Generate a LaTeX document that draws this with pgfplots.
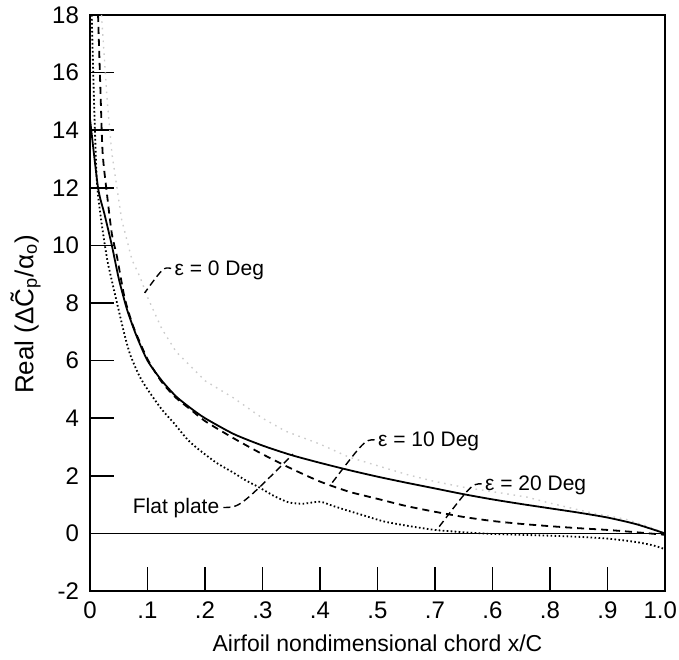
\documentclass[border=0pt]{standalone}
\usepackage{pgfplots}
\pgfplotsset{compat=1.18}
\usepackage{fontspec}
\setmainfont{Liberation Sans}

% Flat plate (solid)
\pgfplotstableread{
x y
0.000 14.4
0.014 12.0
0.025 11.1
0.038 10.0
0.050 8.85
0.064 7.8
0.080 6.9
0.100 6.0
0.125 5.3
0.150 4.75
0.175 4.35
0.200 4.0
0.250 3.45
0.300 3.05
0.350 2.72
0.400 2.45
0.450 2.2
0.500 1.97
0.550 1.76
0.600 1.56
0.650 1.36
0.700 1.18
0.750 1.02
0.800 0.87
0.850 0.72
0.900 0.55
0.950 0.32
1.000 0.0
}\flatplate

% eps = 0 deg (faint)
\pgfplotstableread{
x y
0.020 18.0
0.030 15.0
0.038 13.2
0.055 10.9
0.073 9.5
0.087 8.9
0.100 8.2
0.125 7.1
0.150 6.3
0.200 5.3
0.250 4.7
0.300 4.0
0.340 3.55
0.400 3.1
0.450 2.65
0.500 2.35
0.550 2.05
0.600 1.8
0.650 1.6
0.700 1.45
0.760 1.26
0.800 1.05
0.875 0.7
0.930 0.5
0.974 0.22
1.000 0.0
}\epszero

% eps = 10 deg (dashed)
\pgfplotstableread{
x y
0.014 18.0
0.018 15.5
0.022 13.2
0.030 11.7
0.038 10.4
0.047 9.6
0.060 8.2
0.075 7.2
0.100 6.05
0.125 5.25
0.150 4.7
0.175 4.3
0.200 3.9
0.250 3.3
0.300 2.75
0.350 2.25
0.400 1.8
0.450 1.45
0.500 1.2
0.550 0.95
0.600 0.75
0.650 0.57
0.700 0.43
0.750 0.33
0.800 0.25
0.850 0.18
0.900 0.12
0.950 0.04
1.000 -0.05
}\epsten

% eps = 20 deg (dotted)
\pgfplotstableread{
x y
0.003 18.0
0.007 15.0
0.012 12.2
0.020 10.8
0.030 9.5
0.040 8.6
0.047 8.0
0.060 6.9
0.070 6.2
0.085 5.5
0.100 5.0
0.125 4.3
0.145 3.85
0.170 3.25
0.190 2.9
0.220 2.45
0.250 2.1
0.270 1.85
0.294 1.6
0.320 1.3
0.345 1.08
0.370 1.03
0.400 1.1
0.420 0.97
0.450 0.78
0.480 0.6
0.510 0.42
0.550 0.27
0.600 0.12
0.650 0.04
0.700 -0.02
0.750 -0.05
0.800 -0.08
0.850 -0.12
0.900 -0.18
0.950 -0.3
0.980 -0.42
1.000 -0.55
}\epstwenty

\begin{document}
\begin{tikzpicture}
\begin{axis}[
    scale only axis,
    width=287.5pt,
    height=288pt,
    xmin=0, xmax=1,
    ymin=-2, ymax=18,
    xtick={0,0.1,0.2,0.3,0.4,0.5,0.6,0.7,0.8,0.9,1.0},
    xticklabels={0,.1,.2,.3,.4,.5,.7,.6,.8,.9,\makebox[12pt][r]{1.0}},
    ytick={-2,0,2,4,6,8,10,12,14,16,18},
    tick align=inside,
    xtick pos=bottom,
    ytick pos=left,
    major tick length=12pt,
    tick style={black, line width=0.8pt},
    axis line style={line width=1pt},
    /pgf/number format/assume math mode=true,
    ticklabel style={font=\fontsize{12}{14}\selectfont},
    xticklabel style={yshift=-2pt},
    yticklabel style={xshift=-2pt},
    xlabel={Airfoil nondimensional chord x/C},
    ylabel={Real (Δ\~{C}\textsubscript{p}/α\textsubscript{o})},
    xlabel style={font=\fontsize{11.5}{13}\selectfont,
        at={(axis description cs:0.5,-0.09)}, anchor=center},
    ylabel style={font=\fontsize{13}{15}\selectfont,
        at={(axis description cs:-0.112,0.48)}, anchor=center},
]
\coordinate (bl) at (rel axis cs:0,0);
\coordinate (tr) at (rel axis cs:1,1);
\addplot[black, line width=0.6pt] coordinates {(0,0) (1,0)};
\addplot[gray!40, line width=0.7pt, dash pattern=on 0.8pt off 2.4pt] table[x=x, y=y] {\epszero};
\addplot[black, line width=0.9pt, smooth, tension=0.4] table[x=x, y=y] {\flatplate};
\addplot[black, line width=0.9pt, dash pattern=on 3.5pt off 2.5pt, smooth, tension=0.4] table[x=x, y=y] {\epsten};
\addplot[black, line width=0.9pt, dash pattern=on 0.8pt off 1.2pt, smooth, tension=0.4] table[x=x, y=y] {\epstwenty};

\begin{scope}[font=\fontsize{10.5}{12}\selectfont]
\node[anchor=west, inner sep=1pt] at (axis cs:0.143,9.15) {ε = 0 Deg};
\node[anchor=west, inner sep=1pt] at (axis cs:0.497,3.2) {ε = 10 Deg};
\node[anchor=west, inner sep=1pt] at (axis cs:0.683,1.68) {ε = 20 Deg};
\node[anchor=east, inner sep=1pt] at (axis cs:0.229,0.88) {Flat plate};
\end{scope}
\draw[black, line width=0.7pt, dash pattern=on 3.5pt off 2pt]
    (axis cs:0.141,9.2) .. controls (axis cs:0.128,9.25) .. (axis cs:0.095,8.35);
\draw[black, line width=0.7pt, dash pattern=on 3.5pt off 2pt]
    (axis cs:0.495,3.25) .. controls (axis cs:0.478,3.25) .. (axis cs:0.417,1.65);
\draw[black, line width=0.7pt, dash pattern=on 3.5pt off 2pt]
    (axis cs:0.681,1.72) .. controls (axis cs:0.664,1.72) .. (axis cs:0.603,0.12);
\draw[black, line width=0.7pt, dash pattern=on 3.5pt off 2pt]
    (axis cs:0.232,0.9) .. controls (axis cs:0.26,0.9) .. (axis cs:0.353,2.75);
\end{axis}
% page = same margins round the axis box as the reference
\pgfresetboundingbox
\path[use as bounding box] ([shift={(-45pt,-34.5pt)}]bl) rectangle ([shift={(7pt,7.5pt)}]tr);
\end{tikzpicture}
\end{document}
